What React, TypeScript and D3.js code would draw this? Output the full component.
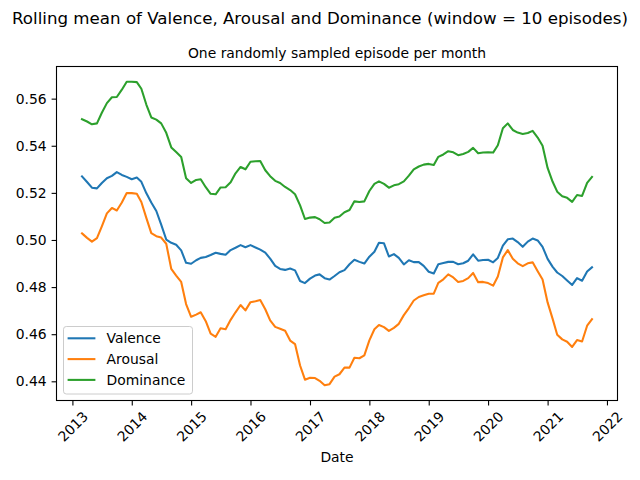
import React, { useEffect, useRef } from 'react';
import * as d3 from 'd3';

// monthly samples, Mar 2013 .. Oct 2021 (rolling mean, window = 10)
const startMonth = new Date(2013, 2, 1);
const endMonth = new Date(2021, 10, 1);

const valence = [
  0.5270, 0.5246, 0.5222, 0.5219, 0.5242, 0.5262, 0.5272, 0.5288, 0.5276, 0.5268,
  0.5258, 0.5265, 0.5247, 0.5198, 0.5159, 0.5123, 0.5065, 0.5002, 0.4988, 0.4980,
  0.4956, 0.4903, 0.4899, 0.4914, 0.4924, 0.4928, 0.4936, 0.4946, 0.4941, 0.4937,
  0.4957, 0.4967, 0.4978, 0.4969, 0.4978, 0.4968, 0.4959, 0.4946, 0.4921, 0.4890,
  0.4877, 0.4873, 0.4879, 0.4871, 0.4826, 0.4817, 0.4836, 0.4849, 0.4854, 0.4838,
  0.4832, 0.4847, 0.4863, 0.4872, 0.4897, 0.4916, 0.4907, 0.4900, 0.4929, 0.4950,
  0.4988, 0.4986, 0.4930, 0.4940, 0.4924, 0.4896, 0.4914, 0.4906, 0.4906, 0.4890,
  0.4865, 0.4858, 0.4897, 0.4902, 0.4907, 0.4907, 0.4897, 0.4901, 0.4912, 0.4939,
  0.4912, 0.4915, 0.4916, 0.4905, 0.4924, 0.4976, 0.5003, 0.5006, 0.4991, 0.4971,
  0.4993, 0.5006, 0.4998, 0.4971, 0.4920, 0.4886, 0.4862, 0.4847, 0.4828, 0.4809,
  0.4838, 0.4827, 0.4866, 0.4884,
];

const arousal = [
  0.5028, 0.5009, 0.4993, 0.5008, 0.5058, 0.5113, 0.5136, 0.5125, 0.5159, 0.5199,
  0.5199, 0.5196, 0.5161, 0.5093, 0.5029, 0.5016, 0.5010, 0.4984, 0.4877, 0.4849,
  0.4822, 0.4728, 0.4674, 0.4683, 0.4693, 0.4655, 0.4602, 0.4589, 0.4625, 0.4621,
  0.4661, 0.4693, 0.4724, 0.4701, 0.4736, 0.4740, 0.4745, 0.4706, 0.4659, 0.4631,
  0.4623, 0.4615, 0.4573, 0.4558, 0.4467, 0.4407, 0.4415, 0.4414, 0.4402, 0.4383,
  0.4388, 0.4420, 0.4430, 0.4458, 0.4458, 0.4500, 0.4498, 0.4510, 0.4574, 0.4621,
  0.4639, 0.4630, 0.4614, 0.4627, 0.4644, 0.4681, 0.4711, 0.4743, 0.4758, 0.4765,
  0.4772, 0.4772, 0.4818, 0.4833, 0.4854, 0.4841, 0.4822, 0.4826, 0.4838, 0.4860,
  0.4821, 0.4822, 0.4817, 0.4806, 0.4845, 0.4926, 0.4957, 0.4920, 0.4901, 0.4889,
  0.4901, 0.4905, 0.4867, 0.4832, 0.4735, 0.4665, 0.4598, 0.4578, 0.4568, 0.4546,
  0.4575, 0.4569, 0.4636, 0.4664,
];

const dominance = [
  0.5513, 0.5503, 0.5491, 0.5495, 0.5540, 0.5581, 0.5606, 0.5607, 0.5638, 0.5672,
  0.5672, 0.5670, 0.5642, 0.5574, 0.5520, 0.5511, 0.5495, 0.5455, 0.5393, 0.5373,
  0.5352, 0.5262, 0.5242, 0.5255, 0.5258, 0.5224, 0.5196, 0.5194, 0.5223, 0.5224,
  0.5245, 0.5283, 0.5310, 0.5300, 0.5332, 0.5334, 0.5335, 0.5296, 0.5271, 0.5251,
  0.5242, 0.5225, 0.5212, 0.5194, 0.5147, 0.5089, 0.5095, 0.5097, 0.5088, 0.5072,
  0.5074, 0.5094, 0.5100, 0.5118, 0.5127, 0.5164, 0.5161, 0.5164, 0.5208, 0.5238,
  0.5249, 0.5238, 0.5222, 0.5232, 0.5237, 0.5249, 0.5273, 0.5300, 0.5312, 0.5320,
  0.5323, 0.5318, 0.5353, 0.5363, 0.5377, 0.5372, 0.5360, 0.5365, 0.5374, 0.5391,
  0.5368, 0.5371, 0.5372, 0.5371, 0.5402, 0.5474, 0.5495, 0.5467, 0.5456, 0.5450,
  0.5454, 0.5463, 0.5435, 0.5400, 0.5306, 0.5247, 0.5205, 0.5186, 0.5179, 0.5162,
  0.5191, 0.5187, 0.5242, 0.5268,
];

const seriesNames = ['Valence', 'Arousal', 'Dominance'];
const seriesColors = ['#1f77b4', '#ff7f0e', '#2ca02c'];
const yearTicks = [2013, 2014, 2015, 2016, 2017, 2018, 2019, 2020, 2021, 2022];
const yTicks = [0.44, 0.46, 0.48, 0.5, 0.52, 0.54, 0.56];

const W = 640;
const H = 480;
const FONT = 'DejaVu Sans, sans-serif';

export default function App() {
  const svgRef = useRef<SVGSVGElement>(null);

  useEffect(() => {
    if (!svgRef.current) return;
    const svg = d3.select(svgRef.current);
    svg.selectAll('*').remove();

    const margin = { top: 66.5, right: 22.5, bottom: 79.5, left: 56.5 };
    const width = W - margin.left - margin.right;
    const height = H - margin.top - margin.bottom;

    const dates = d3.timeMonth.range(startMonth, endMonth);
    const all = [valence, arousal, dominance];

    // matplotlib-like 5% margins
    const [t0, t1] = d3.extent(dates) as [Date, Date];
    const tPad = (t1.getTime() - t0.getTime()) * 0.05;
    const xScale = d3.scaleTime()
      .domain([new Date(t0.getTime() - tPad), new Date(t1.getTime() + tPad)])
      .range([0, width]);

    const vMin = d3.min(all, s => d3.min(s)) as number;
    const vMax = d3.max(all, s => d3.max(s)) as number;
    const vPad = (vMax - vMin) * 0.05;
    const yScale = d3.scaleLinear()
      .domain([vMin - vPad, vMax + vPad])
      .range([height, 0]);

    const g = svg.append('g')
      .attr('transform', `translate(${margin.left},${margin.top})`);

    const line = d3.line<number>()
      .x((_, i) => xScale(dates[i]))
      .y(d => yScale(d));

    all.forEach((s, k) => {
      g.append('path')
        .datum(s)
        .attr('fill', 'none')
        .attr('stroke', seriesColors[k])
        .attr('stroke-width', 2.08)
        .attr('stroke-linejoin', 'round')
        .attr('stroke-linecap', 'square')
        .attr('d', line);
    });

    // x axis
    const xAxis = g.append('g')
      .attr('transform', `translate(0,${height})`)
      .call(
        d3.axisBottom(xScale)
          .tickValues(yearTicks.map(y => new Date(y, 0, 1)))
          .tickSize(4.9)
          .tickFormat(d => d3.timeFormat('%Y')(d as Date))
      );
    xAxis.select('.domain').remove();
    xAxis.selectAll('line').attr('stroke', '#000').attr('stroke-width', 1.1);
    xAxis.selectAll('text')
      .attr('font-family', FONT)
      .attr('font-size', 13.9)
      .attr('fill', '#000')
      .attr('text-anchor', 'middle')
      .attr('dominant-baseline', 'central')
      .attr('y', 0)
      .attr('dy', null)
      .attr('transform', 'translate(0,26) rotate(-45)');

    // y axis
    const yAxis = g.append('g')
      .call(
        d3.axisLeft(yScale)
          .tickValues(yTicks)
          .tickSize(4.9)
          .tickPadding(4.9)
          .tickFormat(d3.format('.2f'))
      );
    yAxis.select('.domain').remove();
    yAxis.selectAll('line').attr('stroke', '#000').attr('stroke-width', 1.1);
    yAxis.selectAll('text')
      .attr('font-family', FONT)
      .attr('font-size', 13.9)
      .attr('fill', '#000');

    // frame
    g.append('rect')
      .attr('width', width)
      .attr('height', height)
      .attr('fill', 'none')
      .attr('stroke', '#000')
      .attr('stroke-width', 1.1);

    // legend
    const legend = g.append('g').attr('transform', 'translate(7,260)');
    legend.append('rect')
      .attr('width', 129)
      .attr('height', 67.5)
      .attr('rx', 2.8)
      .attr('fill', '#fff')
      .attr('fill-opacity', 0.8)
      .attr('stroke', '#cccccc')
      .attr('stroke-width', 1);
    seriesNames.forEach((name, k) => {
      const yy = 11.8 + k * 20.8;
      legend.append('line')
        .attr('x1', 4.1).attr('x2', 31.9)
        .attr('y1', yy).attr('y2', yy)
        .attr('stroke', seriesColors[k])
        .attr('stroke-width', 2.08);
      legend.append('text')
        .attr('x', 43)
        .attr('y', yy)
        .attr('dominant-baseline', 'central')
        .attr('font-family', FONT)
        .attr('font-size', 13.9)
        .text(name);
    });

    // labels and titles
    svg.append('text')
      .attr('x', margin.left + width / 2)
      .attr('y', 462)
      .attr('text-anchor', 'middle')
      .attr('font-family', FONT)
      .attr('font-size', 13.9)
      .text('Date');

    svg.append('text')
      .attr('x', margin.left + width / 2)
      .attr('y', 57.5)
      .attr('text-anchor', 'middle')
      .attr('font-family', FONT)
      .attr('font-size', 13.9)
      .text('One randomly sampled episode per month');

    svg.append('text')
      .attr('x', W / 2)
      .attr('y', 23.5)
      .attr('text-anchor', 'middle')
      .attr('font-family', FONT)
      .attr('font-size', 16.67)
      .text('Rolling mean of Valence, Arousal and Dominance (window = 10 episodes)');
  }, []);

  return (
    <svg
      ref={svgRef}
      width={W}
      height={H}
      style={{ position: 'absolute', left: 0, top: 0, background: '#fff' }}
    />
  );
}
